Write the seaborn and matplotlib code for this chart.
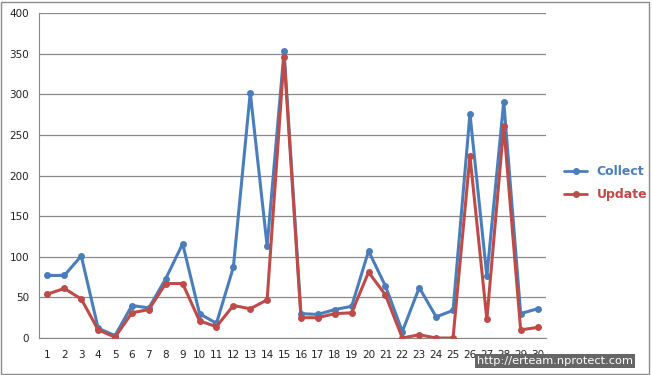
import numpy as np
import pandas as pd
import matplotlib
matplotlib.use("Agg")
import matplotlib.pyplot as plt
import seaborn as sns
from matplotlib.lines import Line2D
from matplotlib.patches import Rectangle

days = list(range(1, 31))
collect = [77, 77, 101, 12, 3, 40, 37, 73, 116, 30, 18, 87, 302, 113, 353,
           30, 29, 35, 39, 107, 64, 8, 62, 26, 34, 276, 76, 291, 30, 36]
update = [54, 61, 48, 10, 1, 31, 35, 67, 67, 21, 14, 40, 36, 47, 346,
          25, 25, 30, 31, 81, 53, 0, 4, 0, 0, 224, 23, 261, 10, 13]
series_names = ["Collect", "Update"]
y_ticks = [0, 50, 100, 150, 200, 250, 300, 350, 400]

df = pd.DataFrame({
    "day": days * 2,
    "value": collect + update,
    "series": [series_names[0]] * 30 + [series_names[1]] * 30,
})

sns.set_style("white")
plt.rcParams['font.family'] = ['DejaVu Sans']

blue = "#4A7EBB"
red = "#BE4B48"

fig = plt.figure(figsize=(6.52, 3.75), dpi=100)
ax = fig.add_axes([39/652, 1-338/375, (546-39)/652, (338-13)/375])

sns.lineplot(data=df, x="day", y="value", hue="series",
             palette={"Collect": blue, "Update": red},
             marker="o", markersize=5, markeredgewidth=0,
             linewidth=2.2, ax=ax, legend=False, zorder=3)

ax.set_xlim(0.5, 30.5)
ax.set_ylim(0, 400)
ax.set_yticks(y_ticks)
ax.set_yticklabels([str(v) for v in y_ticks], fontsize=7.5, color="#222222")
ax.set_xticks(days)
ax.set_xticklabels([str(d) for d in days], fontsize=7.5, color="#222222")
ax.set_xticks(np.arange(0.5, 31, 1), minor=True)
ax.tick_params(axis="x", which="major", length=0, pad=9)
ax.tick_params(axis="x", which="minor", length=4, color="#868686", direction="out")
ax.tick_params(axis="y", length=4, color="#868686", direction="out", pad=3)
ax.yaxis.grid(True, color="#8a8a8a", linewidth=0.9)
ax.set_axisbelow(True)
for s in ["top", "right"]:
    ax.spines[s].set_visible(False)
ax.spines["left"].set_color("#868686")
ax.spines["bottom"].set_color("#868686")
ax.set_xlabel("")
ax.set_ylabel("")

# legend
handles = [Line2D([0], [0], color=blue, marker="o", markersize=4, lw=2),
           Line2D([0], [0], color=red, marker="o", markersize=4, lw=2)]
leg = fig.legend(handles, series_names, loc="center left",
                 bbox_to_anchor=(553/652, 1-183/375), frameon=False,
                 handlelength=1.8, labelspacing=0.8, prop={"size": 9, "weight": "bold"})
leg.get_texts()[0].set_color(blue)
leg.get_texts()[1].set_color(red)

# outer border
fig.patches.append(Rectangle((0.002, 0.004), 0.994, 0.99, transform=fig.transFigure,
                             fill=False, edgecolor="#8c8c8c", linewidth=1))

# watermark
fig.text(633/652, 1-366/375, "http://erteam.nprotect.com", ha="right", va="bottom",
         fontsize=8.2, color="white",
         bbox=dict(boxstyle="square,pad=0.2", facecolor="#666666", edgecolor="none"))

fig.savefig("out.png", dpi=100)
